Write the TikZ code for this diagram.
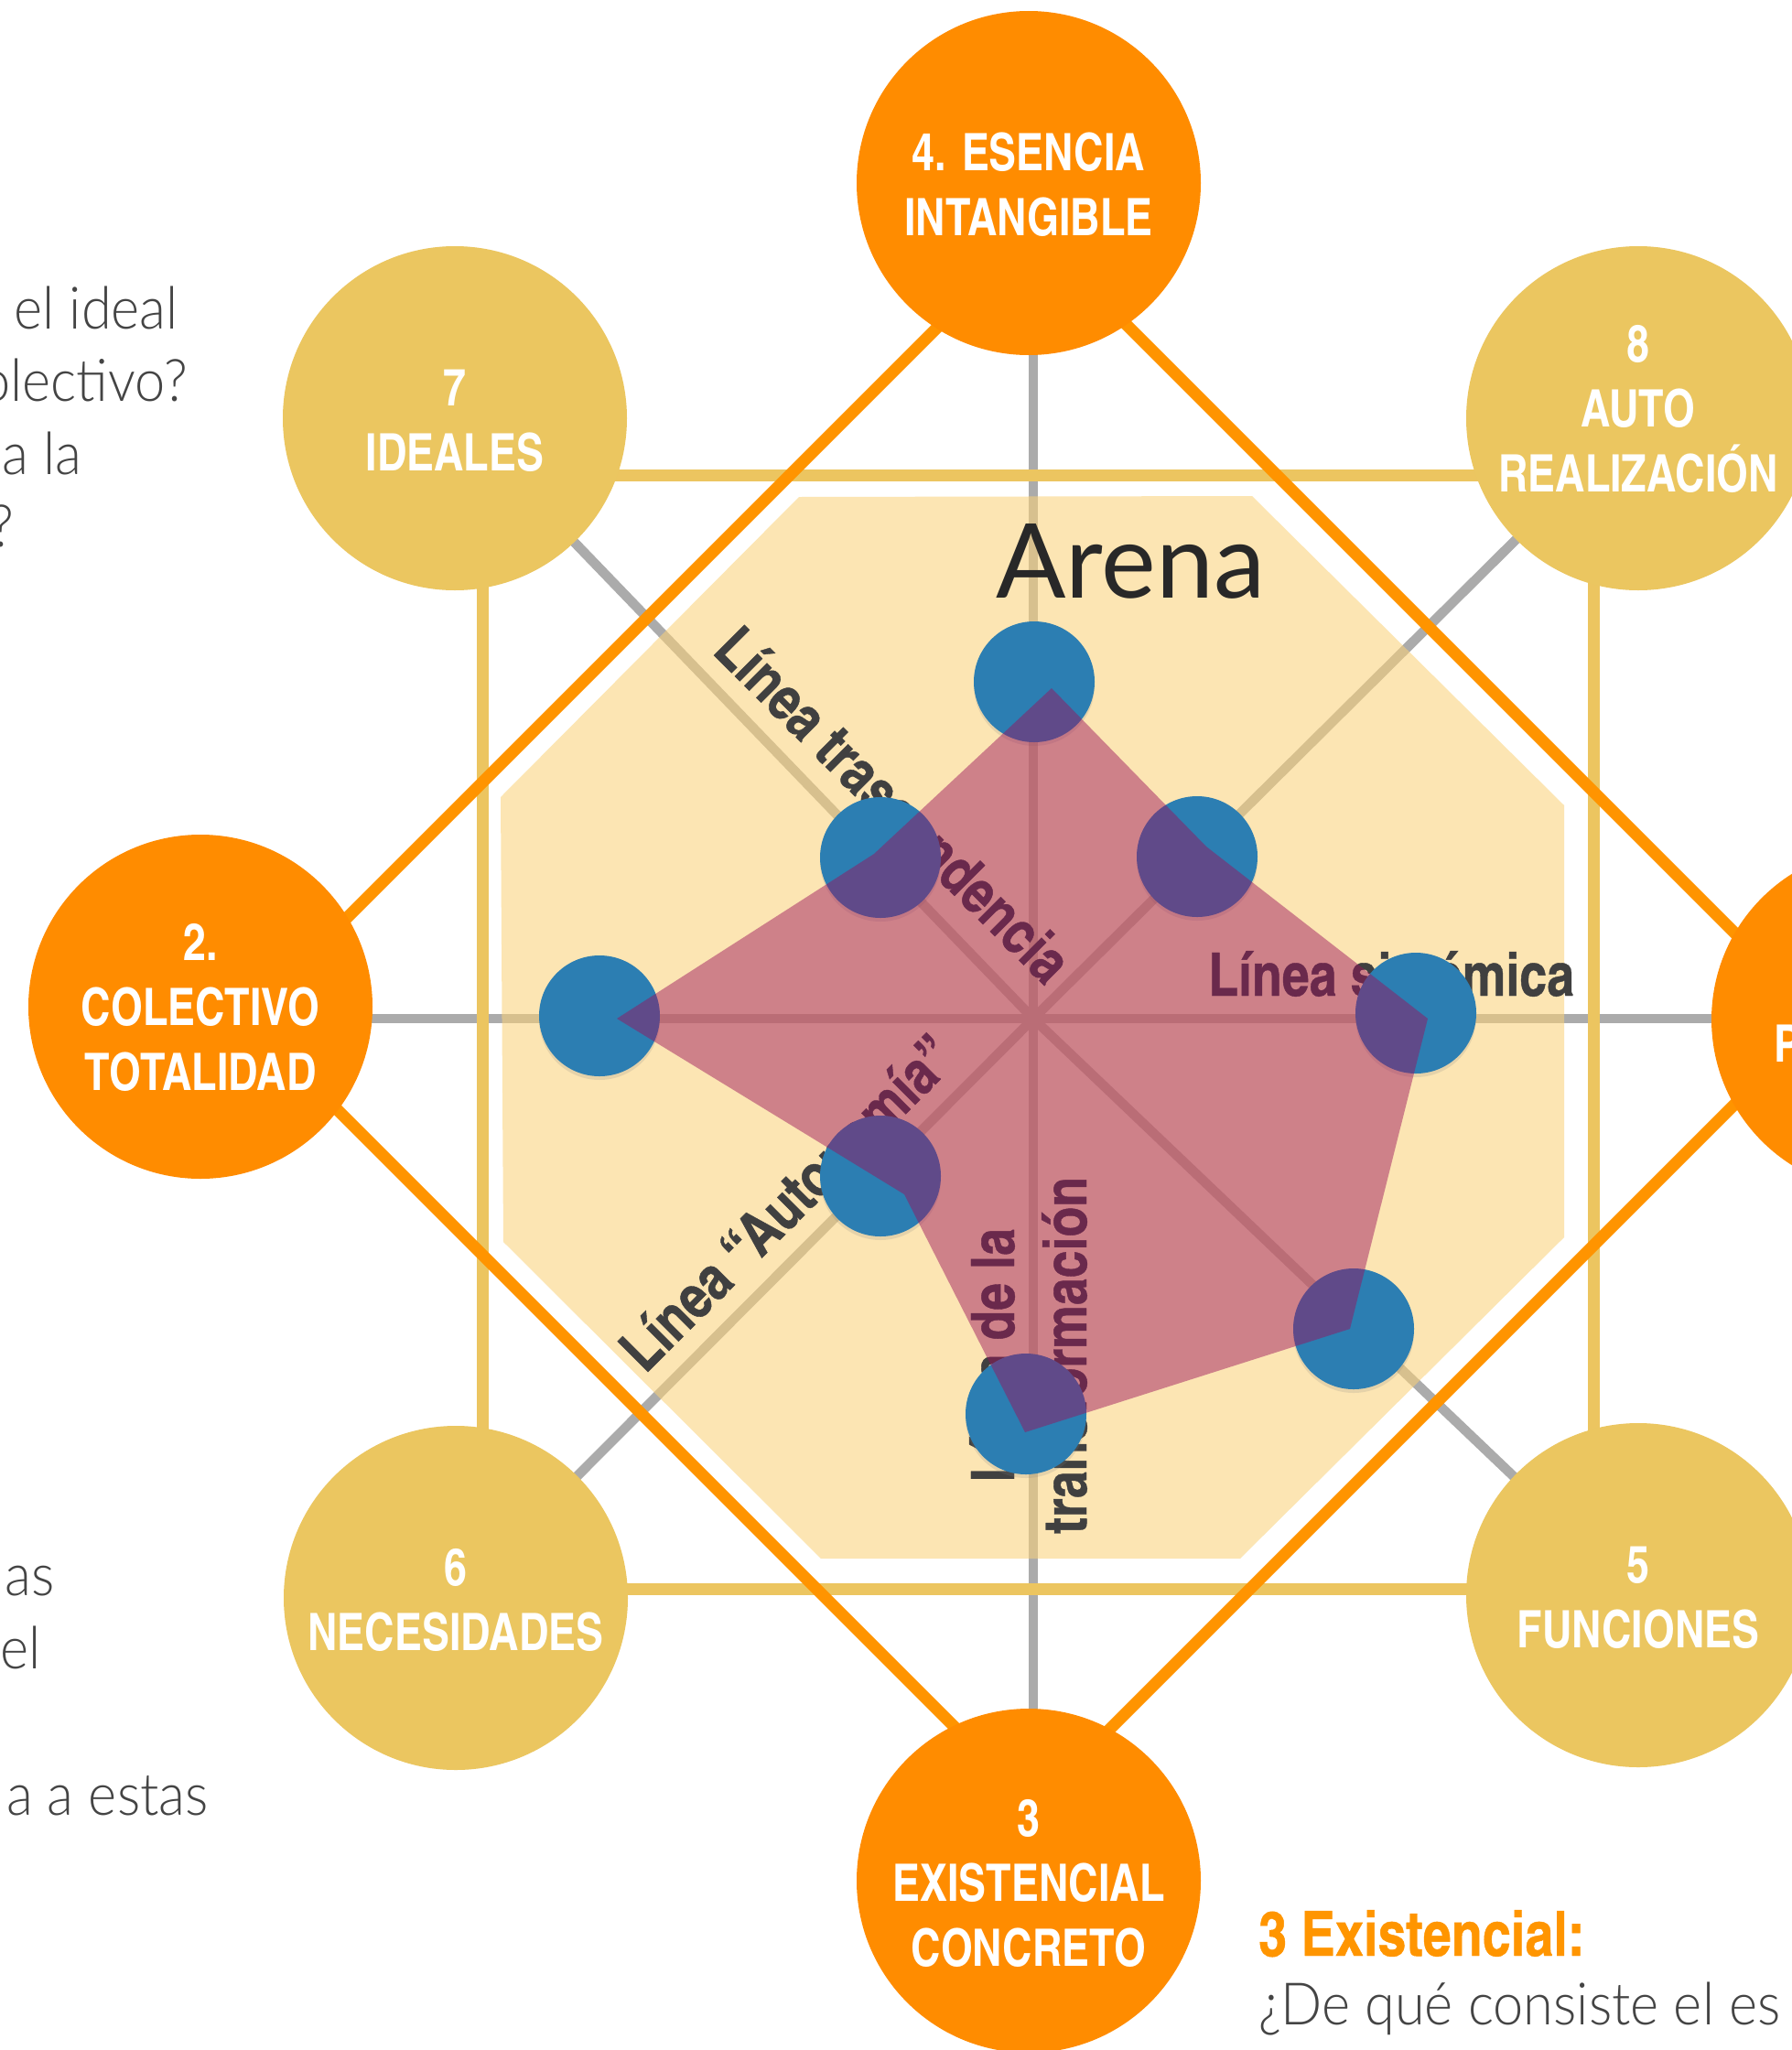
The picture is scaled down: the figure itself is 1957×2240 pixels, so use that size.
\documentclass[tikz,border=0pt]{standalone}
\usepackage{fontspec}
\setmainfont{Lato}
\IfFontExistsTF{texgyreheroscn-bold.otf}
  {\newfontfamily\condfont{texgyreheroscn-bold.otf}[FakeStretch=0.97]
   \newfontfamily\condfontB{texgyreheroscn-bold.otf}[FakeBold=0.6]}
  {\newfontfamily\condfont{TeX Gyre Heros}[FakeStretch=0.8,UprightFont=*-Bold]
   \newfontfamily\condfontB{TeX Gyre Heros}[FakeStretch=0.82,UprightFont=*-Bold]}
\IfFontExistsTF{Lato Light}
  {\newfontfamily\lightfont{Lato Light}[FakeStretch=0.93]}
  {\newfontfamily\lightfont{Lato}[FakeStretch=0.93]}
\newfontfamily\arenafont{Lato}
\usetikzlibrary{shadows}
\definecolor{orangeC}{RGB}{255,140,0}
\definecolor{orangeL}{RGB}{255,148,0}
\definecolor{orangeT}{RGB}{255,149,0}
\definecolor{yellowC}{RGB}{235,198,96}
\definecolor{yellowL}{RGB}{236,197,96}
\definecolor{grayL}{RGB}{171,171,171}
\definecolor{arenaC}{RGB}{251,210,121}
\definecolor{redC}{RGB}{155,17,91}
\definecolor{blueC}{RGB}{44,126,178}
\definecolor{textC}{RGB}{64,64,64}
\definecolor{bodyC}{RGB}{68,68,68}
\definecolor{arenaT}{RGB}{40,40,40}
\begin{document}
\begin{tikzpicture}[x=1pt,y=-1pt,
  spoke/.style={draw=grayL,line width=10.5pt},
  ysq/.style={draw=yellowL,line width=13pt},
  odia/.style={draw=orangeL,line width=13pt},
  bigc/.style={circle,minimum size=376pt,inner sep=0pt},
  clbl/.style={text=white,align=center,inner sep=0pt,font=\condfont\fontsize{56.5}{71}\selectfont},
  dotc/.style={circle,fill=blueC,minimum size=132pt,inner sep=0pt,
     drop shadow={shadow xshift=0pt,shadow yshift=-4pt,opacity=0.18}},
  lbl/.style={text=textC,inner sep=0pt,font=\condfontB\fontsize{65.5}{65.5}\selectfont},
  body/.style={text=bodyC,inner sep=0pt,font=\lightfont\fontsize{64}{80}\selectfont}]
\useasboundingbox[fill=white] (0,0) rectangle (1957,2240);
% centres
\coordinate (ctr) at (1129,1113);
\coordinate (p4) at (1124,200);
\coordinate (p2) at (219,1100);
\coordinate (p3) at (1124,2055);
\coordinate (p1) at (2058,1114);
\coordinate (p7) at (497,457);
\coordinate (p8) at (1790,457);
\coordinate (p6) at (498,1746);
\coordinate (p5) at (1790,1743);
% spoke ends (under the circles)
\coordinate (e4) at (1129,200);
\coordinate (e3) at (1129,2055);
\coordinate (e2) at (219,1113);
\coordinate (e1) at (2058,1113);
% square and diamond corners
\coordinate (s1) at (527,519);
\coordinate (s2) at (1741,519);
\coordinate (s3) at (1741,1736);
\coordinate (s4) at (527,1736);
\coordinate (d1) at (1129,253);
\coordinate (d2) at (1989,1113);
\coordinate (d3) at (1129,1973);
\coordinate (d4) at (269,1113);
% spokes
\foreach \p in {e1,e2,e3,e4,p5,p6,p7,p8} \draw[spoke] (ctr) -- (\p);
% square and diamond
\draw[ysq] (s1) -- (s2) -- (s3) -- (s4) -- cycle;
\draw[odia] (d1) -- (d2) -- (d3) -- (d4) -- cycle;
% arena
\fill[arenaC,fill opacity=0.56] (873,543) -- (1368,542) -- (1709,880) -- (1709,1352)
  -- (1355,1703) -- (897,1703) -- (550,1357) -- (547,871) -- cycle;
\node[anchor=base west,inner sep=0pt,text=arenaT,font=\arenafont\fontsize{113}{113}\selectfont] (arena) at (1088,653) {Arena};
% line labels
\node[lbl,rotate=-45,anchor=base west] (ltras) at (777,713) {Línea trascendencia};
\node[lbl,anchor=base west] (lsist) at (1320,1088) {Línea sistémica};
\node[lbl,rotate=45,anchor=base west] (lauto) at (705,1502) {Línea “Autonomía”};
\node[lbl,rotate=90,anchor=base] (ltrA) at (1108,1481) {Línea de la};
\node[lbl,rotate=90,anchor=base] (ltrB) at (1187,1481) {transformación};
% dots
\node[dotc] (bT) at (1130,745) {};
\node[dotc] (bNE) at (1308,936) {};
\node[dotc] (bE) at (1547,1107) {};
\node[dotc] (bSE) at (1479,1452) {};
\node[dotc] (bS) at (1121,1545) {};
\node[dotc] (bSW) at (962,1285) {};
\node[dotc] (bW) at (655,1110) {};
\node[dotc] (bNW) at (962,937) {};
% red polygon
\fill[redC,fill opacity=0.47] (1149,752) -- (1318,925) -- (1560,1113) -- (1475,1452)
  -- (1120,1565) -- (988,1305) -- (674,1113) -- (955,933) -- cycle;
% big circles
\node[bigc,fill=orangeC] (c4) at (p4) {};
\node[bigc,fill=orangeC] (c2) at (p2) {};
\node[bigc,fill=orangeC] (c3) at (p3) {};
\node[bigc,fill=orangeC] (c1) at (p1) {};
\node[bigc,fill=yellowC] (c7) at (p7) {};
\node[bigc,fill=yellowC] (c8) at (p8) {};
\node[bigc,fill=yellowC] (c6) at (p6) {};
\node[bigc,fill=yellowC] (c5) at (p5) {};
\node[clbl] (t4) at (1124,202) {4. ESENCIA\\INTANGIBLE};
\node[clbl] (t2) at (219,1101) {2.\\COLECTIVO\\TOTALIDAD};
\node[clbl] (t3) at (1124,2058) {3\\EXISTENCIAL\\CONCRETO};
\node[clbl,anchor=base west] (t1) at (1938,1160) {P};
\node[clbl] (t7) at (497,460) {7\\IDEALES};
\node[clbl] (t8) at (1790,447) {8\\AUTO\\REALIZACIÓN};
\node[clbl] (t6) at (498,1748) {6\\NECESIDADES};
\node[clbl] (t5) at (1790,1746) {5\\FUNCIONES};
% side texts
\node[body,anchor=base east] (q1) at (195,359) {el ideal};
\node[body,anchor=base east] (q2) at (205,438) {olectivo?};
\node[body,anchor=base east] (q3) at (90,518) {a la};
\node[body,anchor=base east] (q4) at (15,597) {?};
\node[body,anchor=base east] (r1) at (60,1743) {as};
\node[body,anchor=base east] (r2) at (45,1823) {el};
\node[body,anchor=base east] (r3) at (228,1983) {a a estas};
\node[anchor=base west,inner sep=0pt,text=orangeT,font=\condfontB\fontsize{68}{68}\selectfont] (ex) at (1375,2137) {3 Existencial:};
\node[body,anchor=base west] (exq) at (1375,2212) {¿De qué consiste el es};
\end{tikzpicture}
\end{document}
